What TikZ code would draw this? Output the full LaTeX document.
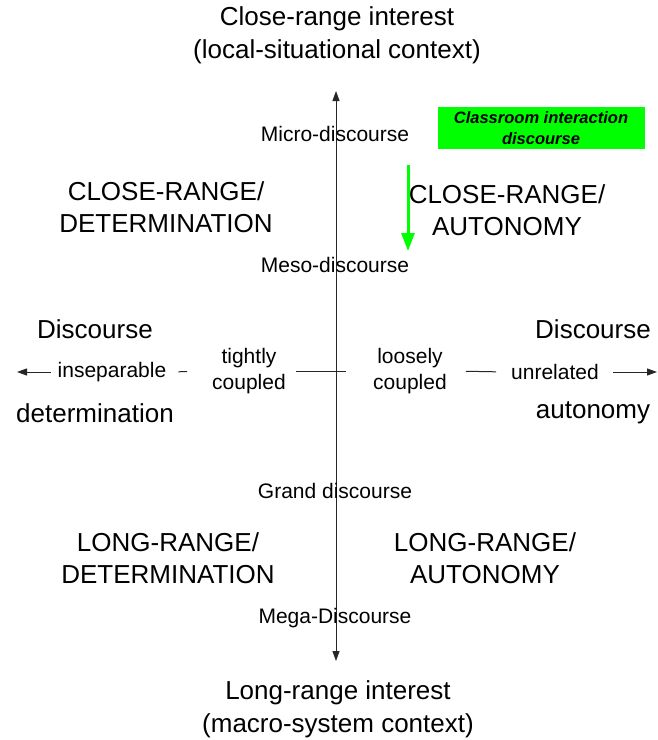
\documentclass[tikz,border=0pt]{standalone}
\usepackage{fontspec}
\setmainfont{Liberation Sans}
\usetikzlibrary{arrows.meta}
\definecolor{brightgreen}{RGB}{0,255,0}
\tikzset{
  big/.style={font=\fontsize{26}{32}\selectfont, align=center, inner sep=0pt},
  title/.style={font=\fontsize{26}{33}\selectfont, align=center, inner sep=0pt},
  mid/.style={font=\fontsize{21}{26}\selectfont, align=center, inner sep=0pt},
  hlab/.style={font=\fontsize{21}{26}\selectfont, align=center, inner ysep=0pt, inner xsep=4pt},
  axisline/.style={draw=black!85, line width=1pt},
  tip/.style={-{Triangle[length=10pt,width=7pt]}},
  greenarrow/.style={draw=brightgreen, line width=3pt, -{Triangle[length=18pt,width=13pt]}},
  greenbox/.style={fill=brightgreen, minimum width=207pt, minimum height=42pt, inner sep=0pt,
     font=\fontsize{16.5}{21}\selectfont\bfseries\itshape, align=center}
}
\begin{document}
\begin{tikzpicture}[x=1pt,y=-1pt]
\useasboundingbox (0,0) rectangle (657,740);
% titles
\node[title] (top) at (337,35) {Close-range interest\\(local-situational context)};
\node[title] (bottom) at (338,709) {Long-range interest\\(macro-system context)};
% vertical axis
\coordinate (T) at (336,91);
\coordinate (B) at (336,661);
\draw[axisline, {Triangle[length=10pt,width=7pt]}-{Triangle[length=10pt,width=7pt]}] (T) -- (B);
% level labels
\node[mid] (micro) at (335,134) {Micro-discourse};
\node[mid] (meso) at (335,265) {Meso-discourse};
\node[mid] (grand) at (335,491) {Grand discourse};
\node[mid] (mega) at (335,618) {Mega-Discourse};
% green box and arrow
\node[greenbox] (class) at (541,128) {Classroom interaction\\discourse};
\coordinate (G1) at (408,165);
\coordinate (G2) at (408,251);
\draw[greenarrow] (G1) -- (G2);
% quadrant labels
\node[big] (crd) at (166,207) {CLOSE-RANGE/\\DETERMINATION};
\node[big] (cra) at (507,210) {CLOSE-RANGE/\\AUTONOMY};
\node[big] (lrd) at (168,558) {LONG-RANGE/\\DETERMINATION};
\node[big] (lra) at (485,558) {LONG-RANGE/\\AUTONOMY};
% horizontal ends
\node[big] (discL) at (95,329) {Discourse};
\node[big] (detL) at (95,413) {determination};
\node[big] (discR) at (593,329) {Discourse};
\node[big] (autR) at (593,413) {autonomy};
% horizontal labels
\node[hlab] (insep) at (112,372) {inseparable};
\node[hlab] (tight) at (249,371) {tightly\\coupled};
\node[hlab] (loose) at (410,371) {loosely\\coupled};
\node[hlab] (unrel) at (555,372) {unrelated};
\coordinate (L) at (17,372);
\coordinate (R) at (657,372);
% horizontal axis segments
\draw[axisline, tip, shorten <=3pt] (insep.west) -- (L);
\draw[axisline, shorten <=8pt, shorten >=21pt] (insep.east) -- (tight.west);
\draw[axisline, shorten <=6pt, shorten >=23pt] (tight.east) -- (loose.west);
\draw[axisline, shorten <=15pt, shorten >=11pt] (loose.east) -- (unrel.west);
\draw[axisline, tip, shorten <=10pt] (unrel.east) -- (R);
\end{tikzpicture}
\end{document}
